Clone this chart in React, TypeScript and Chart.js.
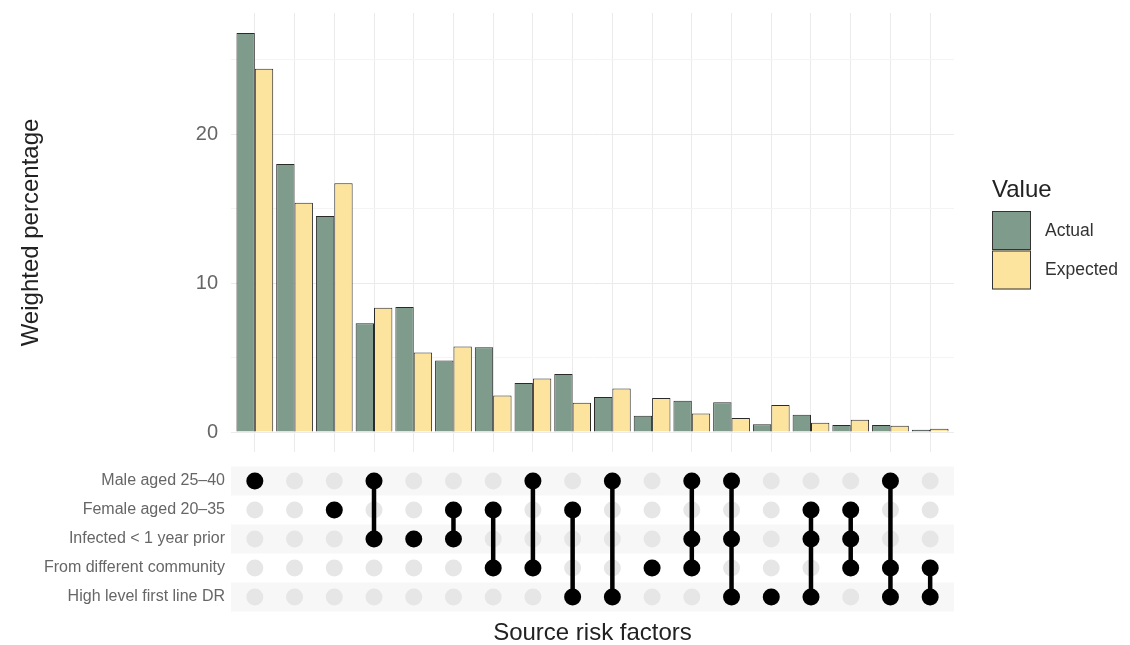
import React, { useEffect, useRef } from "react";
import { Chart, registerables } from "chart.js";

Chart.register(...registerables);

const FAMILY = '"Liberation Sans", Arial, Helvetica, sans-serif';

// ---- data ----
const factors = [
  "Male aged 25–40",
  "Female aged 20–35",
  "Infected < 1 year prior",
  "From different community",
  "High level first line DR",
];
// members of each combination (indices into factors), in bar order
const combos: number[][] = [
  [0], [], [1], [0, 2], [2], [1, 2], [1, 3], [0, 3], [1, 4],
  [0, 4], [3], [0, 2, 3], [0, 2, 4], [4], [1, 2, 4], [1, 2, 3], [0, 3, 4], [3, 4],
];
const actual = [26.8, 18.0, 14.5, 7.3, 8.4, 4.8, 5.7, 3.3, 3.9, 2.35, 1.1, 2.1, 2.0, 0.52, 1.16, 0.47, 0.47, 0.15];
const expected = [24.4, 15.4, 16.7, 8.35, 5.35, 5.75, 2.45, 3.6, 1.97, 2.93, 2.28, 1.25, 0.94, 1.81, 0.62, 0.83, 0.42, 0.22];
const seriesNames = ["Actual", "Expected"];
const yTicks = [0, 5, 10, 15, 20, 25];
const legendTitle = "Value";
const yTitle = "Weighted percentage";
const xTitle = "Source risk factors";

const COLORS = ["#7e9b8b", "#fde49e"];
const X_MIN = -0.6;
const X_MAX = combos.length - 1 + 0.6;

const legendPlugin = {
  id: "ggLegend",
  afterDraw(chart: any) {
    const ctx = chart.ctx;
    ctx.save();
    ctx.textAlign = "left";
    ctx.textBaseline = "alphabetic";
    ctx.font = `24px ${FAMILY}`;
    ctx.fillStyle = "#222";
    ctx.fillText(legendTitle, 992, 197);
    seriesNames.forEach((name, i) => {
      const y = 211 + i * 39.5;
      ctx.fillStyle = COLORS[i];
      ctx.fillRect(992, y, 39, 39);
      ctx.strokeStyle = "#333";
      ctx.lineWidth = 1;
      ctx.strokeRect(992.5, y + 0.5, 38, 38);
      ctx.fillStyle = "#333";
      ctx.font = `17.5px ${FAMILY}`;
      ctx.textBaseline = "middle";
      ctx.fillText(name, 1045, y + 20);
    });
    ctx.restore();
  },
};

const stripePlugin = {
  id: "rowStripes",
  beforeDatasetsDraw(chart: any) {
    const { ctx, chartArea, scales } = chart;
    ctx.save();
    ctx.fillStyle = "#f7f7f7";
    factors.forEach((_, r) => {
      if (r % 2 !== 0) return;
      const a = scales.y.getPixelForValue(r - 0.5);
      const b = scales.y.getPixelForValue(r + 0.5);
      ctx.fillRect(chartArea.left, Math.min(a, b), chartArea.right - chartArea.left, Math.abs(b - a));
    });
    ctx.restore();
  },
};

const fixVertical = (s: any) => {
  s.width = 231;
  s.paddingTop = 0;
  s.paddingBottom = 0;
};
const fixHorizontal = (h: number) => (s: any) => {
  s.height = h;
  s.paddingLeft = 0;
  s.paddingRight = 0;
};

export default function App() {
  const topRef = useRef<HTMLCanvasElement>(null);
  const botRef = useRef<HTMLCanvasElement>(null);

  useEffect(() => {
    document.body.style.margin = "0";
    Chart.defaults.font.family = FAMILY;

    const top = new Chart(topRef.current!, {
      type: "bar",
      data: {
        datasets: [actual, expected].map((vals, k) => ({
          label: seriesNames[k],
          data: vals.map((v, i) => ({ x: i, y: v })),
          backgroundColor: COLORS[k],
          borderColor: "#2a2a2a",
          borderWidth: 1,
          categoryPercentage: 0.925,
          barPercentage: 1,
        })),
      },
      options: {
        animation: false,
        responsive: false,
        maintainAspectRatio: false,
        layout: { padding: { top: 13, right: 176, left: 0, bottom: 0 } },
        plugins: { legend: { display: false }, tooltip: { enabled: false } },
        scales: {
          x: {
            type: "linear",
            min: X_MIN,
            max: X_MAX,
            offset: false,
            afterBuildTicks: (s: any) => {
              s.ticks = combos.map((_, i) => ({ value: i }));
            },
            ticks: { display: false },
            grid: { color: "#ebebeb", drawTicks: false, offset: false },
            border: { display: false },
            afterFit: fixHorizontal(3),
          },
          y: {
            type: "linear",
            min: -1.34,
            max: 28.14,
            afterBuildTicks: (s: any) => {
              s.ticks = yTicks.map((v) => ({ value: v }));
            },
            ticks: {
              callback: (v: any) => (Number(v) % 10 === 0 ? String(v) : ""),
              font: { size: 20, family: FAMILY },
              color: "#666",
              padding: 13,
            },
            grid: {
              color: (c: any) => (c.tick && c.tick.value % 10 === 0 ? "#ebebeb" : "#f4f4f4"),
              drawTicks: false,
            },
            border: { display: false },
            title: {
              display: true,
              text: yTitle,
              font: { size: 24, family: FAMILY },
              color: "#222",
              padding: { top: 17, bottom: 0 },
            },
            afterFit: fixVertical,
          },
        },
      },
      plugins: [legendPlugin],
    } as any);

    const blackPts: any[] = [];
    const greyPts: any[] = [];
    const segs: any[] = [];
    combos.forEach((m, i) => {
      factors.forEach((_, r) => greyPts.push({ x: i, y: r }));
      m.forEach((r) => blackPts.push({ x: i, y: r }));
      if (m.length > 1) {
        segs.push({ x: i, y: Math.min(...m) }, { x: i, y: Math.max(...m) }, { x: i, y: null });
      }
    });

    const bot = new Chart(botRef.current!, {
      type: "scatter",
      data: {
        datasets: [
          { type: "scatter", data: blackPts, pointRadius: 8.5, backgroundColor: "#000", borderWidth: 0, pointHoverRadius: 8.5 },
          { type: "line", data: segs, borderColor: "#000", borderWidth: 4.5, pointRadius: 0, showLine: true, spanGaps: false, fill: false },
          { type: "scatter", data: greyPts, pointRadius: 8.5, backgroundColor: "#e6e6e6", borderWidth: 0 },
        ],
      },
      options: {
        animation: false,
        responsive: false,
        maintainAspectRatio: false,
        layout: { padding: { top: 11.5, right: 176, left: 0, bottom: 0 } },
        plugins: { legend: { display: false }, tooltip: { enabled: false } },
        scales: {
          x: {
            type: "linear",
            min: X_MIN,
            max: X_MAX,
            offset: false,
            ticks: { display: false },
            grid: { display: false, drawTicks: false },
            border: { display: false },
            title: {
              display: true,
              text: xTitle,
              font: { size: 24, family: FAMILY, lineHeight: 1 },
              color: "#222",
              padding: { top: 9.5, bottom: 0 },
            },
            afterFit: fixHorizontal(33.5),
          },
          y: {
            type: "linear",
            min: -0.5,
            max: 4.5,
            reverse: true,
            afterBuildTicks: (s: any) => {
              s.ticks = factors.map((_, r) => ({ value: r }));
            },
            ticks: {
              callback: (v: any) => factors[Number(v)] ?? "",
              font: { size: 16, family: FAMILY },
              color: "#666",
              padding: 6,
            },
            grid: { display: false, drawTicks: false },
            border: { display: false },
            afterFit: fixVertical,
          },
        },
      },
      plugins: [stripePlugin],
    } as any);

    return () => {
      top.destroy();
      bot.destroy();
    };
  }, []);

  return (
    <div style={{ position: "relative", width: 1130, height: 645, overflow: "hidden", background: "#fff" }}>
      <canvas ref={topRef} width={1130} height={455} style={{ position: "absolute", left: 0, top: 0, display: "block" }} />
      <canvas ref={botRef} width={1130} height={190} style={{ position: "absolute", left: 0, top: 455, display: "block" }} />
    </div>
  );
}
